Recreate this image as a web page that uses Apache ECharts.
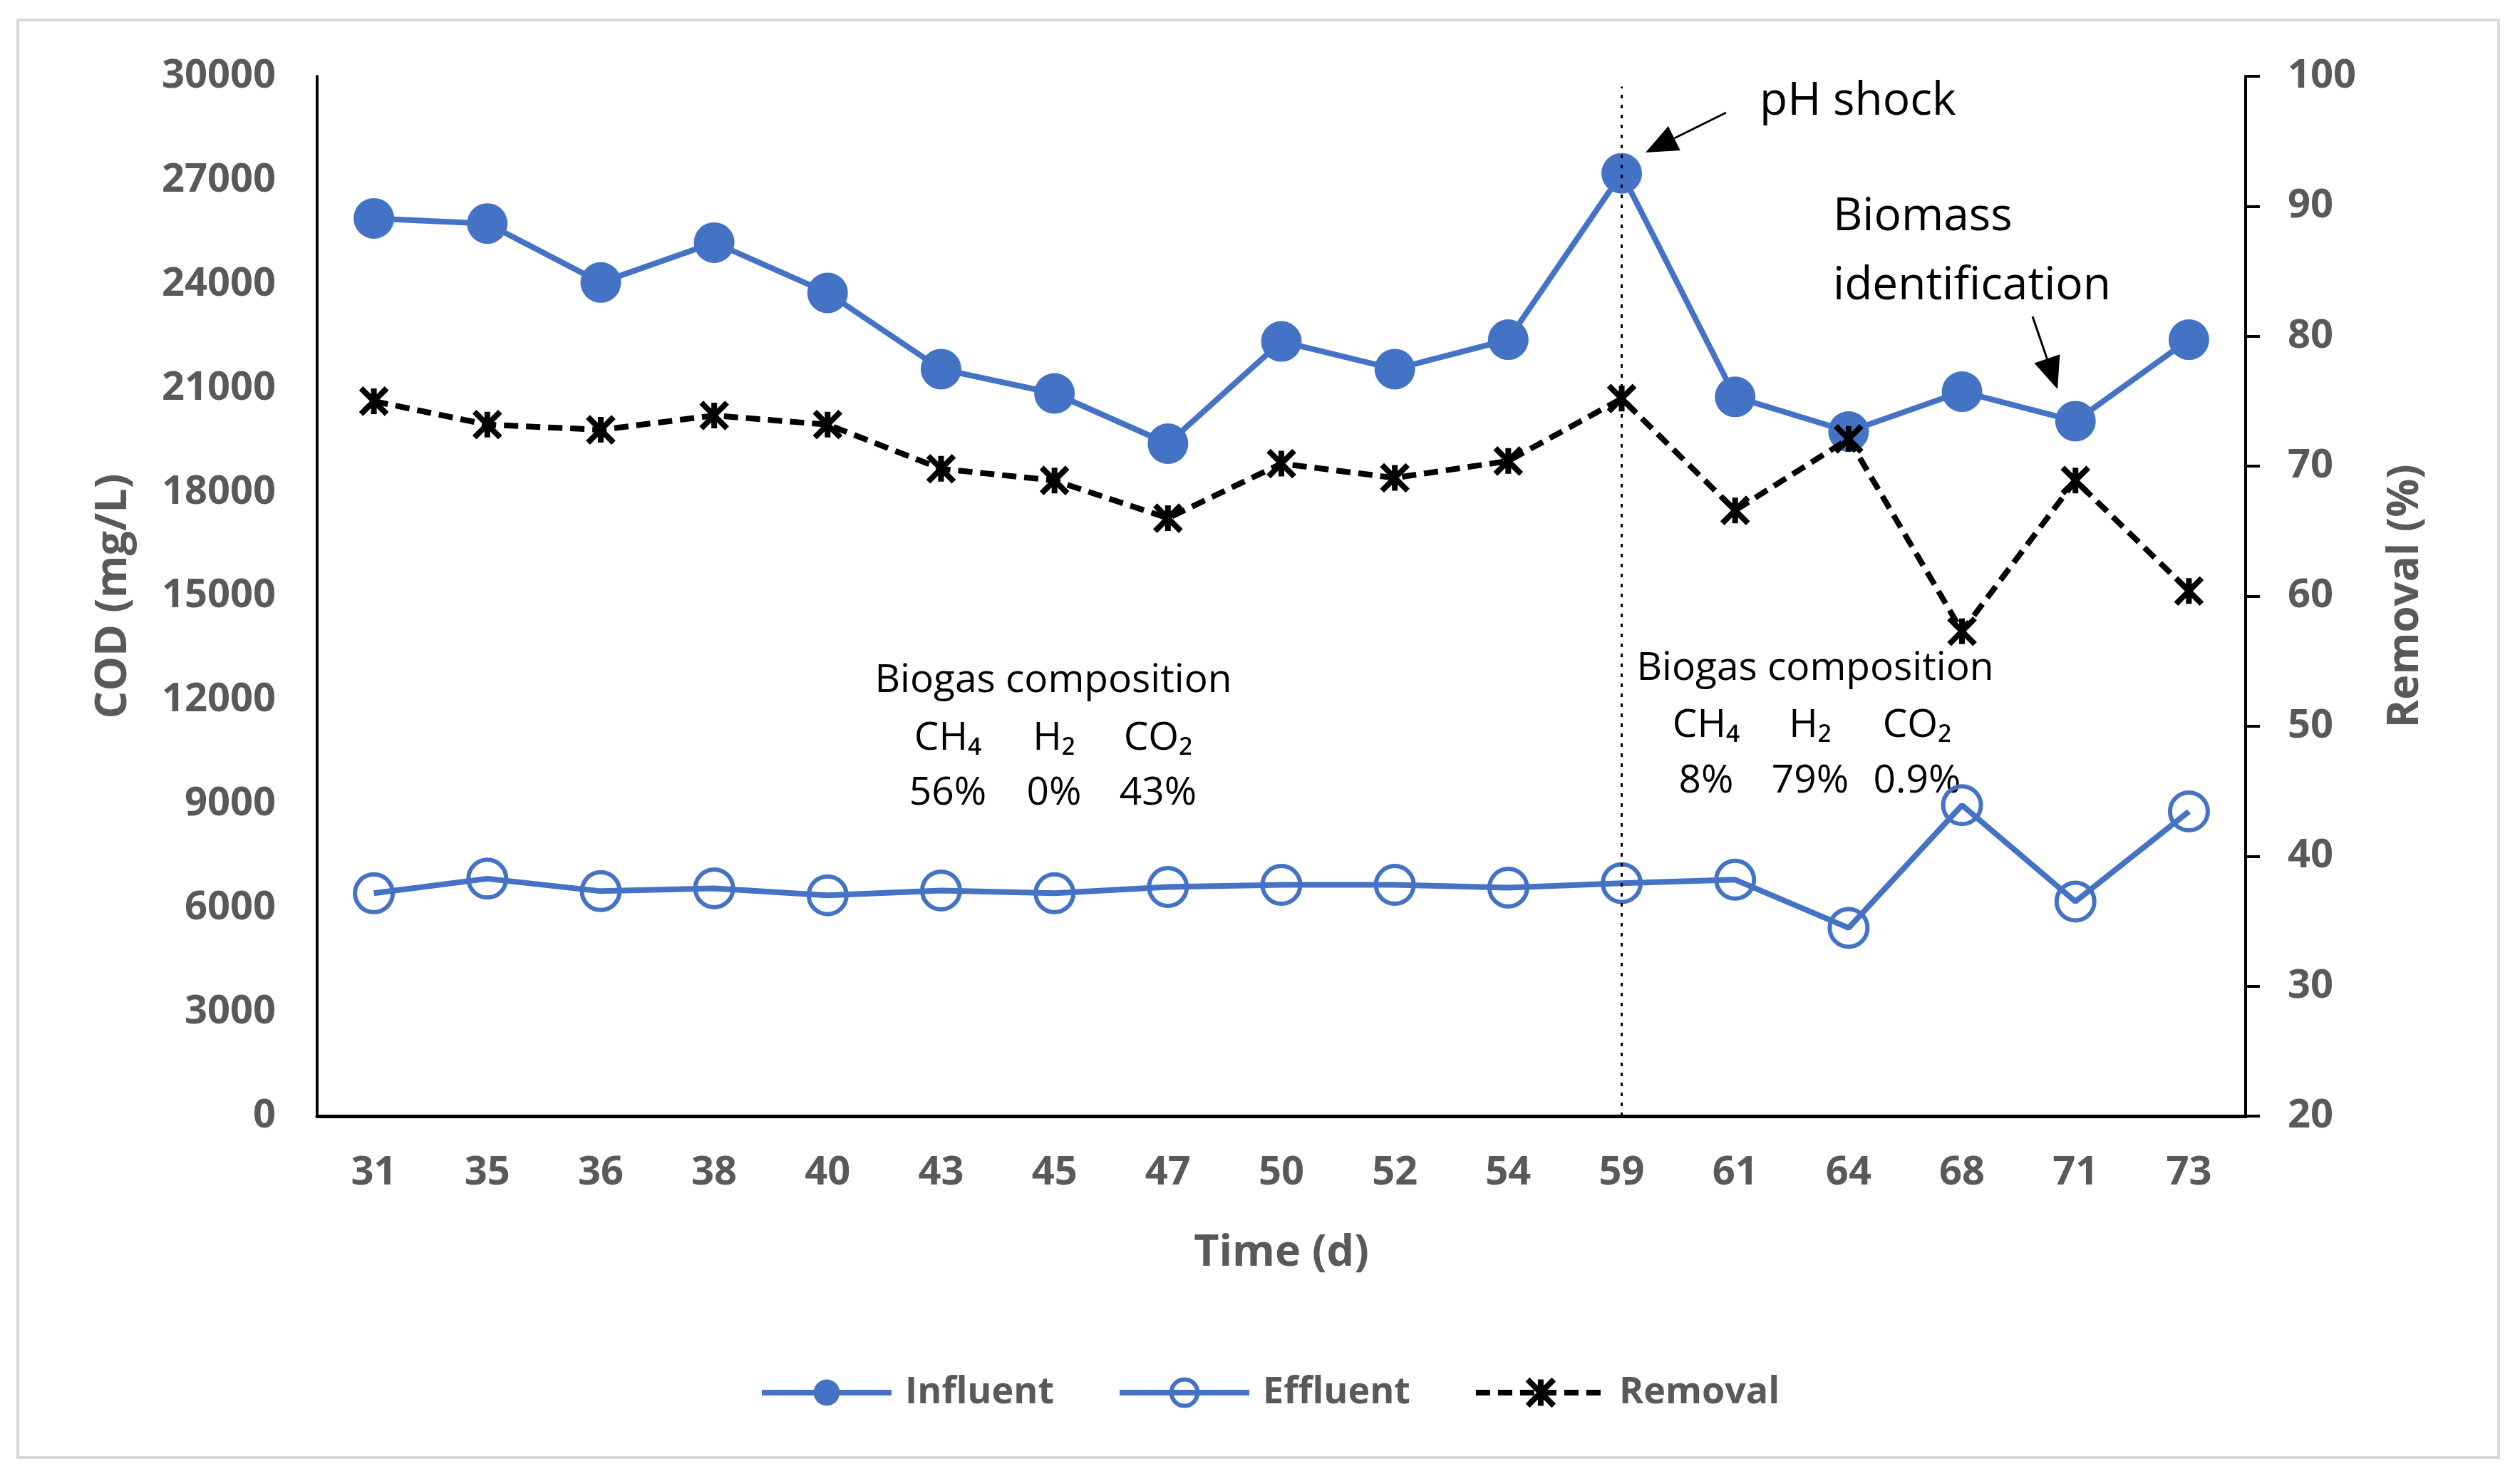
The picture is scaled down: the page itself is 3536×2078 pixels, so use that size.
<!DOCTYPE html>
<html><head><meta charset="utf-8">
<script src="https://cdn.jsdelivr.net/npm/echarts@6/dist/echarts.min.js"></script>
<style>html,body{margin:0;padding:0;background:#fff}#c{width:3536px;height:2078px}</style>
</head><body><div id="c"></div>
<script>
// ---- data ----
const days = ['31','35','36','38','40','43','45','47','50','52','54','59','61','64','68','71','73'];
const influent = [25900, 25750, 24050, 25200, 23750, 21550, 20850, 19400, 22350, 21550, 22400, 27200, 20750, 19750, 20900, 20050, 22400];
const effluent = [6430, 6850, 6490, 6570, 6370, 6510, 6430, 6610, 6670, 6670, 6590, 6720, 6820, 5430, 8970, 6190, 8790];
const removal = [75.0, 73.2, 72.8, 73.9, 73.2, 69.8, 68.9, 66.0, 70.2, 69.1, 70.4, 75.2, 66.6, 72.1, 57.3, 68.9, 60.4];
const codAxis = {min: 0, max: 30000, interval: 3000};
const remAxis = {min: 20, max: 100, interval: 10};
const shockDay = '59';
const shockLineTop = 29700;
const seriesNames = ['Influent', 'Effluent', 'Removal'];
const biogasBefore = {title: 'Biogas composition', gases: ['CH\u2084', 'H\u2082', 'CO\u2082'], values: ['56%', '0%', '43%']};
const biogasAfter = {title: 'Biogas composition', gases: ['CH\u2084', 'H\u2082', 'CO\u2082'], values: ['8%', '79%', '0.9%']};

// ---- styles ----
const BLUE = '#4472C4';
const GRAY = '#595959';
const FONT = '"Open Sans", "Noto Sans", sans-serif';
const STAR = 'path://M10,0L10,20M0,0L20,20M0,20L20,0';

function arrow(x1, y1, x2, y2, hl, hw) {
  const dx = x2 - x1, dy = y2 - y1, L = Math.hypot(dx, dy);
  const ux = dx / L, uy = dy / L, px = -uy, py = ux;
  const bx = x2 - ux * hl, by = y2 - uy * hl;
  return [
    {type: 'line', shape: {x1: x1, y1: y1, x2: bx, y2: by}, style: {stroke: '#000', lineWidth: 3}},
    {type: 'polygon', shape: {points: [[x2, y2], [bx + px * hw / 2, by + py * hw / 2], [bx - px * hw / 2, by - py * hw / 2]]}, style: {fill: '#000'}}
  ];
}
function txt(text, x, y, size, align) {
  return {type: 'text', style: {text: text, x: x, y: y, fill: '#000', font: '400 ' + size + 'px ' + FONT, align: align || 'center', verticalAlign: 'middle'}};
}
function biogasBlock(b, cx, cols, ys) {
  const out = [txt(b.title, cx, ys[0], 55)];
  b.gases.forEach((g, i) => out.push(txt(g, cols[i], ys[1], 55)));
  b.values.forEach((v, i) => out.push(txt(v, cols[i], ys[2], 55)));
  return out;
}

const chart = echarts.init(document.getElementById('c'), null, {renderer: 'canvas'});
const graphics = [
  {type: 'rect', shape: {x: 25, y: 28, width: 3481, height: 2017}, style: {fill: 'none', stroke: '#d9d9d9', lineWidth: 4}, z: -1},
  txt('pH shock', 2469, 143, 64, 'left'),
  txt('Biomass', 2572, 305, 64, 'left'),
  txt('identification', 2572, 402, 64, 'left'),
  ...arrow(2422, 158, 2309, 214, 45, 38),
  ...arrow(2852, 444, 2887, 546, 45, 38),
  ...biogasBlock(biogasBefore, 1478, [1330, 1479, 1625], [955, 1036, 1113]),
  ...biogasBlock(biogasAfter, 2547, [2394, 2540, 2690], [938, 1018, 1096])
];

const tickFont = {fontFamily: FONT, fontSize: 56, fontWeight: 'bold', color: GRAY};

chart.setOption({
  animation: false,
  backgroundColor: '#fff',
  grid: {left: 445, right: 385, top: 107, bottom: 512, containLabel: false},
  legend: {
    data: seriesNames, left: 1060, top: 1923, itemWidth: 182, itemHeight: 46, itemGap: 88,
    lineStyle: {width: 8},
    itemStyle: {borderWidth: 'inherit'},
    textStyle: {fontFamily: FONT, fontSize: 52, fontWeight: 'bold', color: GRAY, padding: [0, 0, 0, 14]}
  },
  xAxis: {
    type: 'category', data: days, boundaryGap: true,
    name: 'Time (d)', nameLocation: 'middle', nameGap: 162,
    nameTextStyle: {fontFamily: FONT, fontSize: 61, fontWeight: 'bold', color: GRAY},
    axisLine: {lineStyle: {color: '#000', width: 5}},
    axisTick: {show: false},
    axisLabel: Object.assign({interval: 0, margin: 52}, tickFont),
    splitLine: {show: false}
  },
  yAxis: [
    {
      type: 'value', min: codAxis.min, max: codAxis.max, interval: codAxis.interval, position: 'left',
      name: 'COD (mg/L)', nameLocation: 'middle', nameGap: 255,
      nameTextStyle: {fontFamily: FONT, fontSize: 61, fontWeight: 'bold', color: GRAY},
      axisLine: {show: true, lineStyle: {color: '#000', width: 4}},
      axisTick: {show: false},
      axisLabel: Object.assign({margin: 58, formatter: v => String(v)}, tickFont),
      splitLine: {show: false}
    },
    {
      type: 'value', min: remAxis.min, max: remAxis.max, interval: remAxis.interval, position: 'right',
      name: 'Removal (%)', nameLocation: 'middle', nameGap: 195,
      nameTextStyle: {fontFamily: FONT, fontSize: 60, fontWeight: 'bold', color: GRAY},
      axisLine: {show: true, lineStyle: {color: '#000', width: 4}},
      axisTick: {show: true, inside: false, length: 20, lineStyle: {color: '#000', width: 4}},
      axisLabel: Object.assign({margin: 59, formatter: v => String(v)}, tickFont),
      splitLine: {show: false}
    }
  ],
  series: [
    {
      name: seriesNames[0], type: 'line', yAxisIndex: 0, data: influent,
      symbol: 'circle', symbolSize: 57,
      itemStyle: {color: BLUE},
      lineStyle: {color: BLUE, width: 8},
      markLine: {
        silent: true, symbol: 'none', label: {show: false},
        lineStyle: {color: '#000', width: 3, type: [5, 9]},
        data: [[{coord: [shockDay, codAxis.min]}, {coord: [shockDay, shockLineTop]}]]
      },
      z: 3
    },
    {
      name: seriesNames[1], type: 'line', yAxisIndex: 0, data: effluent,
      symbol: 'circle', symbolSize: 53,
      itemStyle: {color: 'rgba(255,255,255,0)', borderColor: BLUE, borderWidth: 6},
      lineStyle: {color: BLUE, width: 8},
      z: 3
    },
    {
      name: seriesNames[2], type: 'line', yAxisIndex: 1, data: removal,
      symbol: STAR, symbolSize: 36,
      itemStyle: {color: '#000', borderColor: '#000', borderWidth: 8},
      lineStyle: {color: '#000', width: 8, type: [20, 11]},
      z: 4
    }
  ],
  graphic: graphics
});
</script>
</body></html>
